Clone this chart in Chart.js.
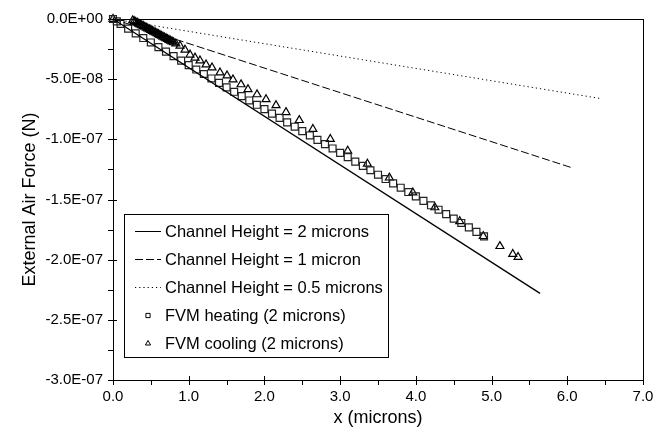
<!DOCTYPE html>
<html>
<head>
<meta charset="utf-8">
<script src="https://cdn.jsdelivr.net/npm/chart.js@4/dist/chart.umd.min.js"></script>
<style>
  html, body { margin: 0; padding: 0; background: #fff; }
  #wrap { width: 670px; height: 432px; }
</style>
</head>
<body>
<div id="wrap"><canvas id="chart"></canvas></div>
<script>
// ================== Data ==================
// analytical lines, one straight segment each
const h2X = [0, 5.64];
const h2Y = [0, -2.28e-7];
const h1X = [0, 6.08];
const h1Y = [0, -1.24e-7];
const h05X = [0, 6.43];
const h05Y = [0, -0.66e-7];

// FVM heating (2 microns) - squares
const heatX = [0, 0.05, 0.1, 0.2, 0.3, 0.4, 0.5, 0.6, 0.7, 0.8, 0.9,
    1.0, 1.1, 1.2, 1.3, 1.4, 1.5, 1.6, 1.7, 1.8, 1.9,
    2.0, 2.1, 2.2, 2.3, 2.4, 2.5, 2.6, 2.7, 2.8, 2.9,
    3.0, 3.1, 3.2, 3.3, 3.4, 3.5, 3.6, 3.7, 3.8, 3.9,
    4.0, 4.1, 4.2, 4.3, 4.4, 4.5, 4.6, 4.7, 4.8, 4.9];
const heatY = [0, -0.20e-8, -0.40e-8, -0.80e-8, -1.19e-8, -1.58e-8, -1.95e-8, -2.34e-8, -2.71e-8, -3.09e-8, -3.46e-8,
    -3.83e-8, -4.20e-8, -4.57e-8, -4.94e-8, -5.31e-8, -5.68e-8, -6.05e-8, -6.41e-8, -6.77e-8, -7.13e-8,
    -7.49e-8, -7.86e-8, -8.22e-8, -8.59e-8, -8.95e-8, -9.32e-8, -9.68e-8, -10.04e-8, -10.40e-8, -10.76e-8,
    -11.12e-8, -11.48e-8, -11.85e-8, -12.21e-8, -12.57e-8, -12.94e-8, -13.30e-8, -13.66e-8, -14.02e-8, -14.38e-8,
    -14.74e-8, -15.11e-8, -15.48e-8, -15.85e-8, -16.22e-8, -16.59e-8, -16.95e-8, -17.32e-8, -17.69e-8, -18.06e-8];

// FVM cooling (2 microns) - triangles
const coolX = [0, 0.26, 0.28, 0.30, 0.32, 0.34, 0.36, 0.38, 0.40, 0.42, 0.44, 0.46, 0.48, 0.50, 0.52, 0.54, 0.56,
    0.58, 0.60, 0.62, 0.64, 0.66, 0.68, 0.70, 0.72, 0.74, 0.76, 0.78, 0.80, 0.83,
    0.885, 0.951, 1.017, 1.083, 1.149, 1.229, 1.308, 1.413, 1.506, 1.585, 1.691, 1.783, 1.902, 2.021, 2.153, 2.285,
    2.46, 2.64, 2.87, 3.10, 3.36, 3.65, 3.96, 4.25, 4.58, 4.89, 5.11, 5.28, 5.35];
const coolY = [0, -0.012e-7, -0.019e-7, -0.026e-7, -0.032e-7, -0.039e-7, -0.046e-7, -0.053e-7, -0.059e-7, -0.066e-7,
    -0.073e-7, -0.080e-7, -0.087e-7, -0.093e-7, -0.100e-7, -0.107e-7, -0.114e-7,
    -0.120e-7, -0.127e-7, -0.134e-7, -0.141e-7, -0.148e-7, -0.154e-7, -0.161e-7, -0.168e-7, -0.175e-7, -0.181e-7,
    -0.188e-7, -0.195e-7, -0.205e-7,
    -0.223e-7, -0.256e-7, -0.297e-7, -0.322e-7, -0.346e-7, -0.379e-7, -0.404e-7, -0.445e-7, -0.470e-7, -0.503e-7,
    -0.544e-7, -0.585e-7, -0.627e-7, -0.668e-7, -0.717e-7, -0.775e-7,
    -0.841e-7, -0.915e-7, -0.998e-7, -1.096e-7, -1.204e-7, -1.319e-7, -1.443e-7, -1.566e-7, -1.682e-7, -1.805e-7,
    -1.888e-7, -1.954e-7, -1.979e-7];

// axis ranges / tick steps
const xRange = [0, 7];
const xStep = 0.5;   // minor step, labels on whole numbers
const yRange = [-3e-7, 0];
const yStep = 2.5e-8; // minor step, labels every 5e-8

const FONT = '"Liberation Sans", Arial, Helvetica, sans-serif';

function toPoints(xs, ys) {
    return xs.map((x, i) => ({ x: x, y: ys[i] }));
}

// 0.0E+00 style labels
function sciLabel(v) {
    if (Math.abs(v) < 1e-20) return '0.0E+00';
    let e = Math.floor(Math.log10(Math.abs(v)));
    let m = v / Math.pow(10, e);
    if (Math.abs(m) >= 9.95) { m /= 10; e += 1; }
    if (Math.abs(m) < 0.995) { m *= 10; e -= 1; }
    return m.toFixed(1) + 'E' + (e < 0 ? '-' : '+') + String(Math.abs(e)).padStart(2, '0');
}

function isMajor(v, step) {
    const r = v / step;
    return Math.abs(r - Math.round(r)) < 1e-6;
}

// ================== Plugins ==================
// frame + tick marks (major ticks cross the axis, minor ones point outwards)
const frameTicks = {
    id: 'frameTicks',
    beforeDatasetsDraw(chart) {
        const { ctx, chartArea: a, scales } = chart;
        ctx.save();
        ctx.strokeStyle = '#000';
        ctx.lineWidth = 1;
        ctx.strokeRect(Math.round(a.left) + 0.5, Math.round(a.top) + 0.5,
            Math.round(a.right - a.left), Math.round(a.bottom - a.top));

        ctx.beginPath();
        scales.x.ticks.forEach(t => {
            const px = Math.round(scales.x.getPixelForValue(t.value)) + 0.5;
            const major = isMajor(t.value, 1);
            ctx.moveTo(px, a.bottom + 5);
            ctx.lineTo(px, major ? a.bottom - 4 : a.bottom);
        });
        scales.y.ticks.forEach(t => {
            const py = Math.round(scales.y.getPixelForValue(t.value)) + 0.5;
            const major = isMajor(t.value, 5e-8);
            ctx.moveTo(a.left - 5, py);
            ctx.lineTo(major ? a.left + 4 : a.left, py);
        });
        ctx.stroke();
        ctx.restore();
    }
};

// boxed legend inside the plot
const boxLegend = {
    id: 'boxLegend',
    afterDraw(chart) {
        const ctx = chart.ctx;
        ctx.save();
        ctx.fillStyle = '#fff';
        ctx.fillRect(124.5, 214.5, 264, 143);
        ctx.strokeStyle = '#000';
        ctx.lineWidth = 1;
        ctx.strokeRect(124.5, 214.5, 264, 143);

        ctx.font = '16.5px ' + FONT;
        ctx.textBaseline = 'middle';
        chart.data.datasets.forEach((ds, i) => {
            const y = 231.5 + i * 28;
            ctx.strokeStyle = '#000';
            if (ds.showLine) {
                ctx.lineWidth = 1;
                ctx.setLineDash(ds.borderDash || []);
                ctx.beginPath();
                ctx.moveTo(135, y);
                ctx.lineTo(161, y);
                ctx.stroke();
                ctx.setLineDash([]);
            } else {
                ctx.fillStyle = '#fff';
                ctx.lineWidth = 1;
                Chart.helpers.drawPoint(ctx, { pointStyle: ds.pointStyle, radius: 3, borderWidth: 1, rotation: 0 }, 148, y);
            }
            ctx.fillStyle = '#000';
            ctx.fillText(ds.label, 165, y + 1);
        });
        ctx.restore();
    }
};

// ================== Chart ==================
function lineSet(label, xs, ys, dash, width) {
    return {
        label: label,
        data: toPoints(xs, ys),
        showLine: true,
        borderColor: '#000',
        borderWidth: width,
        borderDash: dash,
        pointRadius: 0,
        fill: false,
        clip: false
    };
}

function markerSet(label, xs, ys, style, radius, color) {
    return {
        label: label,
        data: toPoints(xs, ys),
        showLine: false,
        pointStyle: style,
        pointRadius: radius,
        pointBorderWidth: 1.2,
        borderColor: color,
        backgroundColor: 'rgba(0,0,0,0)',
        clip: false
    };
}

new Chart(document.getElementById('chart'), {
    type: 'scatter',
    data: {
        datasets: [
            lineSet('Channel Height = 2 microns', h2X, h2Y, [], 1.3),
            lineSet('Channel Height = 1 micron', h1X, h1Y, [8, 3], 1),
            lineSet('Channel Height = 0.5 microns', h05X, h05Y, [1.2, 3], 1),
            markerSet('FVM heating (2 microns)', heatX, heatY, 'rect', 4.9, '#222'),
            markerSet('FVM cooling (2 microns)', coolX, coolY, 'triangle', 4.6, '#000')
        ]
    },
    options: {
        responsive: true,
        maintainAspectRatio: false,
        animation: false,
        layout: { padding: { top: 16, right: 27, left: 0, bottom: 0 } },
        plugins: { legend: { display: false }, tooltip: { enabled: false } },
        scales: {
            x: {
                type: 'linear',
                min: xRange[0],
                max: xRange[1],
                grid: { display: false, drawTicks: false },
                border: { display: false },
                ticks: {
                    stepSize: xStep,
                    autoSkip: false,
                    maxRotation: 0,
                    padding: 8,
                    color: '#000',
                    font: { family: FONT, size: 15 },
                    callback: v => isMajor(v, 1) ? Math.round(v).toFixed(1) : ''
                },
                title: {
                    display: true,
                    text: 'x (microns)',
                    color: '#000',
                    font: { family: FONT, size: 18 },
                    padding: { top: 0, bottom: 3 }
                },
                afterFit: s => { s.height = 52; }
            },
            y: {
                type: 'linear',
                min: yRange[0],
                max: yRange[1],
                grid: { display: false, drawTicks: false },
                border: { display: false },
                ticks: {
                    stepSize: yStep,
                    autoSkip: false,
                    padding: 10,
                    color: '#000',
                    font: { family: FONT, size: 15 },
                    callback: v => isMajor(v, 5e-8) ? sciLabel(v) : ''
                },
                title: {
                    display: true,
                    text: 'External Air Force (N)',
                    color: '#000',
                    font: { family: FONT, size: 18 },
                    padding: { top: 19, bottom: 0 }
                },
                afterFit: s => { s.width = 113; }
            }
        }
    },
    plugins: [frameTicks, boxLegend]
});
</script>
</body>
</html>
